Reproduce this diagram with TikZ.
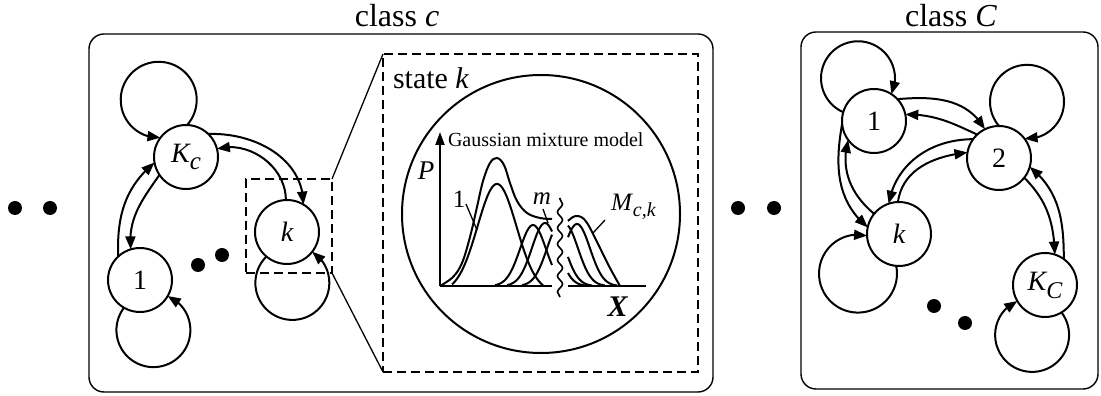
\documentclass[tikz,border=0pt]{standalone}
\usepackage{fontspec}
\setmainfont{Liberation Serif}
\usetikzlibrary{arrows.meta,decorations.pathmorphing,bending}
\newcommand{\fsz}[1]{\fontsize{#1}{#1}\selectfont}
% self loop: node, exit angle, entry angle, loop radius (node radius 32)
\newcommand{\myloop}[4]{%
  \pgfmathsetmacro{\Dl}{#3-(#2)}%
  \pgfmathsetmacro{\phil}{((#2)+(#3))/2}%
  \pgfmathsetmacro{\betal}{asin(32*sin(abs(\Dl)/2)/#4)}%
  \pgfmathsetmacro{\sal}{ifthenelse(\Dl>0,\phil+180+\betal,\phil+180-\betal)}%
  \pgfmathsetmacro{\eal}{ifthenelse(\Dl>0,\phil+540-\betal,\phil-180+\betal)}%
  \draw[arr] (#1.#2) arc[start angle=\sal, end angle=\eal, radius=#4];}
\tikzset{
  st/.style={circle,draw,line width=2pt,minimum size=64pt,inner sep=0pt,outer sep=0pt,font=\fsz{28}},
  arr/.style={line width=2pt,-{Triangle[length=13pt,width=10pt]}},
  bigdot/.style={circle,fill,minimum size=14pt,inner sep=0pt},
  classbox/.style={draw,line width=1.4pt,rounded corners=15pt,inner sep=0pt,outer sep=0pt},
  dashbox/.style={draw,line width=2pt,dash pattern=on 9pt off 5pt,inner sep=0pt,outer sep=0pt},
  thinline/.style={line width=1.3pt},
  curve/.style={line width=2pt},
  lbl/.style={inner sep=0pt,outer sep=0pt},
}
\begin{document}
\begin{tikzpicture}[x=1pt,y=1pt]
\useasboundingbox (0,0) rectangle (1101,396);
% class boxes
\node[classbox,minimum width=624pt,minimum height=358pt] (boxc) at (401,183) {};
\node[classbox,minimum width=297pt,minimum height=357pt] (boxC) at (949.5,185.5) {};
\node[lbl,font=\fsz{32}] (tc) at (397,380) {class \textit{c}};
\node[lbl,font=\fsz{32}] (tC) at (951,380) {class \textit{C}};
% outer dots
\node[bigdot] (d1) at (15,188) {};
\node[bigdot] (d2) at (50,188) {};
\node[bigdot] (d3) at (738,188) {};
\node[bigdot] (d4) at (774,188) {};
% ---- class c ----
\node[st] (Kc) at (186,239) {\itshape K\raisebox{-7pt}{\fsz{25}c}};
\node[st] (n1) at (140,116) {1};
\node[st] (k) at (287,164) {\itshape k};
\node[bigdot] (d5) at (198,131) {};
\node[bigdot] (d6) at (222,141) {};
\draw[arr] (Kc.46) to[out=2,in=90] (k.59);
\draw[arr] (k.92) to[out=90,in=15] (Kc.15);
\draw[arr] (Kc.214) to[out=235,in=95] (n1.107);
\draw[arr] (n1.133) to[out=92,in=220] (Kc.190);
\myloop{Kc}{88}{143}{38}
\myloop{n1}{-120}{-30}{37}
\myloop{k}{-130}{-38}{37}
% zoom boxes
\node[dashbox,minimum width=86pt,minimum height=94pt] (zs) at (289,170) {};
\node[dashbox,minimum width=315pt,minimum height=318pt] (zb) at (540.5,183) {};
\draw[thinline] (zs.north east) -- (zb.north west);
\draw[thinline] (zs.south east) -- (zb.south west);
\node[lbl,font=\fsz{30},anchor=west] (stk) at (393,318) {state \textit{k}};
\node[circle,draw,line width=2pt,minimum size=278pt,inner sep=0pt] (gmm) at (541,182) {};
% plot
\draw[line width=2pt,-{Triangle[length=13pt,width=9pt]}] (440,110) -- (440,264);
\draw[line width=2pt] (440,110) -- (552,110) (568,110) -- (646,110);
\node[lbl,font=\fsz{20},anchor=west] (gtxt) at (448,256) {Gaussian mixture model};
\node[lbl,font=\fsz{27}] (pl) at (426,225) {\textit{P}};
\node[lbl,font=\fsz{30}] (xl) at (618,89) {\textbf{\textit{X}}};
\node[lbl,font=\fsz{25}] (one) at (459,197) {1};
\node[lbl,font=\fsz{25}] (ml) at (542,197) {\textit{m}};
\node[lbl,font=\fsz{25},anchor=west] (Ml) at (611,189) {\textit{M}\raisebox{-6pt}{\fsz{20}\textit{c,k}}};
% gaussian curves
\draw[curve] plot[domain=452:543,samples=60] (\x,{110+108*(exp(-0.5*((\x-497)/19.5)^2)-0.055)});
\draw[curve] plot[smooth,tension=0.6] coordinates {(440,110) (453,119) (462,133) (470,159) (477,189) (483,215) (490,233) (497,238) (504,231) (510,213) (517,195) (527,183) (540,178) (552,177)};
\foreach \m/\a/\s in {533/61/495,545/63/507,560/62/522}
  \draw[curve] plot[domain=\s:552,samples=40] (\x,{110+\a*exp(-0.5*((\x-\m)/13)^2)});
\foreach \m/\e in {545/585,552/592,565/605,577/617}
  \draw[curve] plot[domain=568:\e,samples=40] (\x,{110+62*exp(-0.5*((\x-\m)/13)^2)});
\draw[curve] plot[smooth,tension=0.6] coordinates {(568,175) (573,179) (578,180) (584,177) (590,168) (600,148) (610,128) (620,110)};
\draw[line width=1.6pt,decorate,decoration={snake,amplitude=2.5pt,segment length=16pt}] (560,99) -- (560,198);
\draw[thinline] (466,192) -- (477,166);
\draw[thinline] (543,187) -- (548,173);
\draw[thinline] (605,176) -- (593,163);
% ---- class C ----
\node[st] (r1) at (874,275) {1};
\node[st] (r2) at (999,238) {2};
\node[st] (rk) at (899,162) {\itshape k};
\node[st] (rKC) at (1045,111) {\itshape K\raisebox{-8pt}{\fsz{24}C}};
\node[bigdot] (d7) at (934,90) {};
\node[bigdot] (d8) at (965,73) {};
\draw[arr] (r1.43) to[out=5,in=120] (r2.116);
\draw[arr] (r2.133) to[out=155,in=0] (r1.12);
\draw[arr] (r2.144) to[out=180,in=80] (rk.109);
\draw[arr] (rk.92) to[out=82,in=186] (r2.170);
\draw[arr] (r1.185) to[out=260,in=140] (rk.168);
\draw[arr] (rk.141) to[out=140,in=255] (r1.216);
\draw[arr] (r2.-38) to[out=-45,in=92] (rKC.72);
\draw[arr] (rKC.54) to[out=90,in=-39] (r2.-16);
\myloop{r1}{164}{57}{37}
\myloop{r2}{90}{37}{37}
\myloop{rk}{265}{183}{39}
\myloop{rKC}{301}{210}{37}
\end{tikzpicture}
\end{document}
